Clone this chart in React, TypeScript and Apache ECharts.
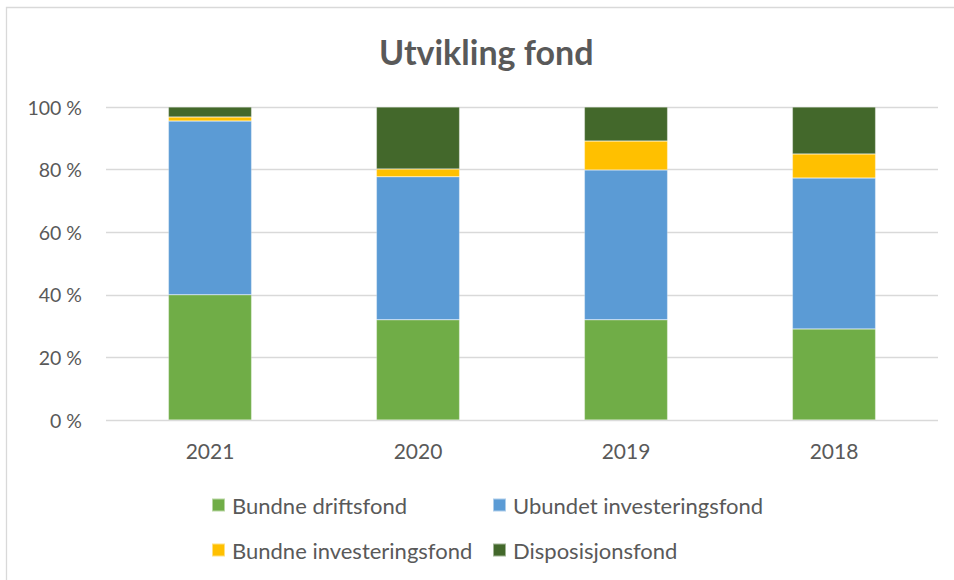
import React, { useEffect, useRef } from "react";
import * as echarts from "echarts";

const categories = ["2021", "2020", "2019", "2018"];
const seriesNames = [
  "Bundne driftsfond",
  "Ubundet investeringsfond",
  "Bundne investeringsfond",
  "Disposisjonsfond",
];
const bundneDriftsfond = [40.0, 32.0, 32.0, 29.1];
const ubundetInvesteringsfond = [55.5, 45.7, 47.9, 48.2];
const bundneInvesteringsfond = [1.3, 2.5, 9.2, 7.7];
const disposisjonsfond = [3.2, 19.8, 10.9, 15.0];
const yTicks = [0, 20, 40, 60, 80, 100];

const colors = ["#70AD47", "#5B9BD5", "#FFC000", "#43682B"];
const FONT = "Lato, 'Open Sans', sans-serif";

export default function App() {
  const ref = useRef<HTMLDivElement>(null);
  useEffect(() => {
    if (!ref.current) return;
    const chart = echarts.init(ref.current, null, { renderer: "svg" });
    const values = [bundneDriftsfond, ubundetInvesteringsfond, bundneInvesteringsfond, disposisjonsfond];
    const legendPos = [
      { left: 206, top: 489 },
      { left: 487, top: 489 },
      { left: 206, top: 534 },
      { left: 487, top: 534 },
    ];
    chart.setOption({
      animation: false,
      backgroundColor: "#ffffff",
      color: colors,
      title: {
        text: "Utvikling fond",
        left: 374,
        top: 29,
        textStyle: { fontFamily: FONT, fontSize: 34, fontWeight: "bold", color: "#595959" },
      },
      legend: seriesNames.map((n, i) => ({
        data: [n],
        left: legendPos[i].left,
        top: legendPos[i].top,
        itemWidth: 13,
        itemHeight: 13,
        icon: "rect",
        itemGap: 6,
        textStyle: { fontFamily: FONT, fontSize: 22, color: "#595959", padding: [0, 0, 0, 2] },
        selectedMode: false,
      })),
      grid: { left: 106, right: 16, top: 107, bottom: 160, containLabel: false },
      xAxis: {
        type: "category",
        data: categories,
        axisLine: { show: false },
        axisTick: { show: false },
        axisLabel: { fontFamily: FONT, fontSize: 21, color: "#595959", margin: 20 },
      },
      yAxis: {
        type: "value",
        min: 0,
        max: 100,
        interval: 20,
        axisLine: { show: false },
        axisTick: { show: false },
        splitLine: { lineStyle: { color: "#D9D9D9", width: 1.3 } },
        axisLabel: {
          fontFamily: FONT,
          fontSize: 19.5,
          color: "#595959",
          margin: 24,
          formatter: (v: number) => (yTicks.includes(v) ? `${v} %` : ""),
        },
      },
      series: seriesNames.map((n, i) => ({
        name: n,
        type: "bar",
        stack: "total",
        barWidth: "40%",
        data: values[i],
        itemStyle: { color: colors[i], borderColor: "rgba(255,255,255,0.5)", borderWidth: 0.5 },
      })),
      graphic: [
        {
          type: "rect",
          shape: { x: 6.5, y: 7.5, width: 960, height: 600 },
          style: { fill: "none", stroke: "#D9D9D9", lineWidth: 1.3 },
          silent: true,
        },
      ],
    });
    return () => chart.dispose();
  }, []);
  return (
    <div
      ref={ref}
      style={{ position: "fixed", left: 0, top: 0, width: 954, height: 580 }}
    />
  );
}
